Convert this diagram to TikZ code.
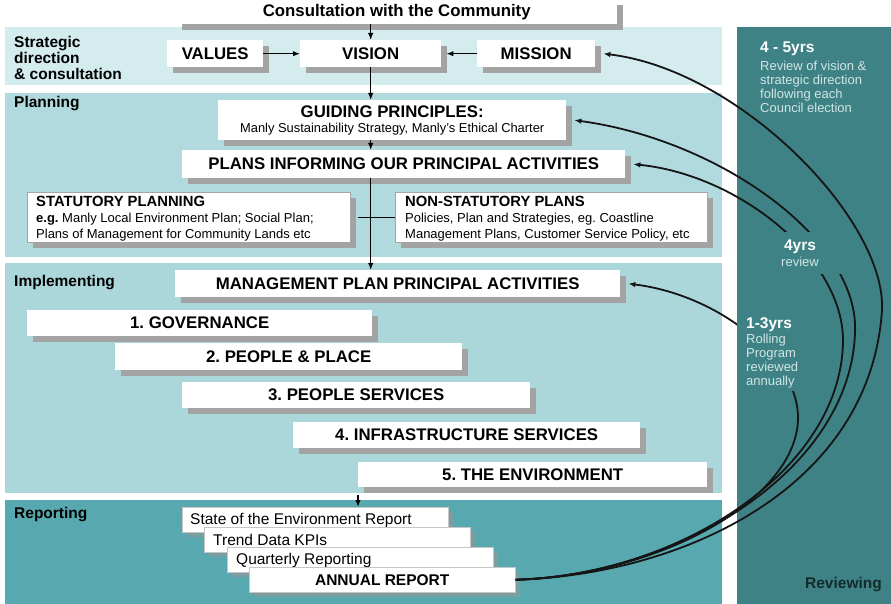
\documentclass[tikz,border=0pt]{standalone}
\usepackage{fontspec}
\setmainfont{Liberation Sans}
\usetikzlibrary{arrows.meta,shadows}
\frenchspacing

\definecolor{bandstrat}{HTML}{D5ECEE}
\definecolor{bandplan}{HTML}{B0DADE}
\definecolor{bandimpl}{HTML}{ABD7DB}
\definecolor{bandrep}{HTML}{58A8B0}
\definecolor{revpanel}{HTML}{3E8285}
\definecolor{shgray}{HTML}{A3A3A3}
\definecolor{repshadow}{HTML}{7D9EA1}
\definecolor{paneltext}{HTML}{D0E6E6}
\definecolor{darktext}{HTML}{132B2C}
\definecolor{curvecol}{HTML}{151515}

% heading of a review period
\newcommand\revhd[1]{{\fontsize{15.5}{16}\selectfont\bfseries\color{white}#1}}

\begin{document}
\begin{tikzpicture}[x=1pt,y=-1pt,
  big/.style={font=\fontsize{16.8}{19}\selectfont\bfseries},
  wbox/.style={fill=white, inner sep=0pt, anchor=north west, big,
    drop shadow={shadow xshift=6pt, shadow yshift=-6pt, fill=shgray, opacity=1}},
  framed/.style={wbox, draw=gray!70, line width=0.8pt},
  repbox/.style={fill=white, draw=gray!45, line width=0.5pt, inner sep=0pt,
    anchor=north west, minimum width=266pt, minimum height=25pt,
    drop shadow={shadow xshift=5pt, shadow yshift=-5pt, fill=repshadow, opacity=1}},
  reptext/.style={anchor=west, inner sep=0pt, font=\fontsize{15.5}{17}\selectfont},
  bandlabel/.style={anchor=west, inner sep=0pt, align=left,
    font=\fontsize{15.5}{15.8}\selectfont\bfseries},
  plantext/.style={anchor=west, inner sep=0pt, align=left,
    font=\fontsize{13}{16}\selectfont},
  revlabel/.style={fill=revpanel, text=paneltext, align=left,
    font=\fontsize{13}{13.8}\selectfont},
  arr/.style={-{Latex[length=7pt,width=5.5pt]}, line width=1.5pt},
  link/.style={line width=1.3pt},
  review/.style={-{Latex[length=7pt,width=5.5pt]}, line width=1.8pt, draw=curvecol}
]
\useasboundingbox (0,0) rectangle (891,604);
\fill[white] (0,0) rectangle (891,604);

% horizontal bands
\fill[bandstrat] (5,27) rectangle (722,85);
\fill[bandplan] (5,93) rectangle (722,257);
\fill[bandimpl] (5,263) rectangle (722,493);
\fill[bandrep] (5,500) rectangle (722,604);
% reviewing column
\fill[revpanel] (737,27) rectangle (891,604);

% band titles
\node[bandlabel, anchor=north west] (lblstrat) at (14,36) {Strategic\\direction\\\& consultation};
\node[bandlabel] (lblplan) at (14,104) {Planning};
\node[bandlabel] (lblimpl) at (14,283) {Implementing};
\node[bandlabel] (lblrep) at (14,515) {Reporting};
\node[bandlabel, anchor=east, text=darktext] (lblrev) at (882,585) {Reviewing};

% strategic direction
\node[wbox, minimum width=441pt, minimum height=25pt] (consult) at (176,-1) {Consultation with the Community};
\node[wbox, minimum width=96pt, minimum height=27pt] (values) at (167,40) {VALUES};
\node[wbox, minimum width=141pt, minimum height=27pt] (vision) at (300,40) {VISION};
\node[wbox, minimum width=118pt, minimum height=27pt] (mission) at (477,40) {MISSION};

% planning
\node[wbox, minimum width=348pt, minimum height=40pt, align=center] (guiding) at (218,100)
  {GUIDING PRINCIPLES:\\[-4pt]{\fontsize{12.9}{14}\selectfont\mdseries Manly Sustainability Strategy, Manly's Ethical Charter}};
\node[wbox, minimum width=443pt, minimum height=28pt] (plans) at (182,150) {PLANS INFORMING OUR PRINCIPAL ACTIVITIES};
\node[framed, minimum width=323pt, minimum height=50pt] (stat) at (27,192) {};
\node[plantext] (stattxt) at ([xshift=9pt,yshift=-1.5pt]stat.west)
  {{\fontsize{14.8}{16}\selectfont\bfseries STATUTORY PLANNING}\\
   {\bfseries e.g.} Manly Local Environment Plan; Social Plan;\\
   Plans of Management for Community Lands etc};
\node[framed, minimum width=312pt, minimum height=50pt] (nonstat) at (395,192) {};
\node[plantext] (nonstattxt) at ([xshift=10pt,yshift=-1.5pt]nonstat.west)
  {{\fontsize{14.8}{16}\selectfont\bfseries NON-STATUTORY PLANS}\\
   Policies, Plan and Strategies, eg. Coastline\\
   Management Plans, Customer Service Policy, etc};

% implementing
\node[wbox, minimum width=445pt, minimum height=27pt] (mgmt) at (175,270) {MANAGEMENT PLAN PRINCIPAL ACTIVITIES};
\node[wbox, minimum width=345pt, minimum height=26pt] (gov) at (27,310) {1. GOVERNANCE};
\node[wbox, minimum width=347pt, minimum height=27pt] (pplace) at (115,343) {2. PEOPLE \& PLACE};
\node[wbox, minimum width=348pt, minimum height=26pt] (pserv) at (182,382) {3. PEOPLE SERVICES};
\node[wbox, minimum width=347pt, minimum height=26pt] (infra) at (293,422) {4. INFRASTRUCTURE SERVICES};
\node[wbox, minimum width=349pt, minimum height=25pt] (env) at (358,462) {5. THE ENVIRONMENT};

% reporting
\node[repbox] (soe) at (182,507) {};
\node[reptext] (soetxt) at ([xshift=8pt,yshift=-0.5pt]soe.west) {State of the Environment Report};
\node[repbox] (trend) at (204,527) {};
\node[reptext] (trendtxt) at ([xshift=9pt,yshift=-0.5pt]trend.west) {Trend Data KPIs};
\node[repbox] (quart) at (227,547) {};
\node[reptext] (quarttxt) at ([xshift=9pt,yshift=-0.5pt]quart.west) {Quarterly Reporting};
\node[repbox, font=\fontsize{15.5}{17}\selectfont\bfseries] (annual) at (249,567) {ANNUAL REPORT};

% straight connectors
\draw[arr] (consult.south -| vision.north) -- (vision.north);
\draw[arr] (values.east) -- (vision.west);
\draw[arr] (mission.west) -- ([xshift=5pt]vision.east);
\draw[arr] (vision.south) -- (vision.south |- guiding.north);
\draw[arr] (guiding.south -| vision.south) -- (vision.south |- plans.north);
\draw[arr] (plans.south -| vision.south) -- (vision.south |- mgmt.north);
\draw[link] ([xshift=7pt]stat.east) -- (nonstat.west);
\draw[arr] ([yshift=-8pt]env.south west) -- (env.south west |- soe.north);

% review cycles, from the annual report back to each stage
\draw[review] (annual.east) .. controls (680,575) and (870,490) .. (882,310)
  .. controls (886,220) and (740,70) .. ([xshift=8pt]mission.east);
\draw[review] (annual.east) .. controls (680,575) and (850,470) .. (855,333)
  .. controls (860,240) and (720,140) .. ([xshift=8pt]guiding.east);
\draw[review] (annual.east) .. controls (680,575) and (840,470) .. (843,343)
  .. controls (845,260) and (740,175) .. ([xshift=8pt]plans.east);
\draw[review] (annual.east) .. controls (660,575) and (795,500) .. (798,420)
  .. controls (800,360) and (720,295) .. ([xshift=8pt]mgmt.east);

% review period labels
\node[revlabel, anchor=north west, inner xsep=10pt, inner ysep=3pt] (rev45) at (750,39)
  {\revhd{4 - 5yrs}\\[4pt]
   Review of vision \&\\strategic direction\\following each\\Council election};
\node[revlabel, align=center, minimum width=84pt, minimum height=42pt, inner sep=0pt] (rev4) at (800,253)
  {\revhd{4yrs}\\[2pt]review};
\node[revlabel, anchor=north west, inner xsep=9pt, inner ysep=3pt] (rev13) at (737,314)
  {\revhd{1-3yrs}\\[2pt]
   Rolling\\Program\\reviewed\\annually};
\end{tikzpicture}
\end{document}
